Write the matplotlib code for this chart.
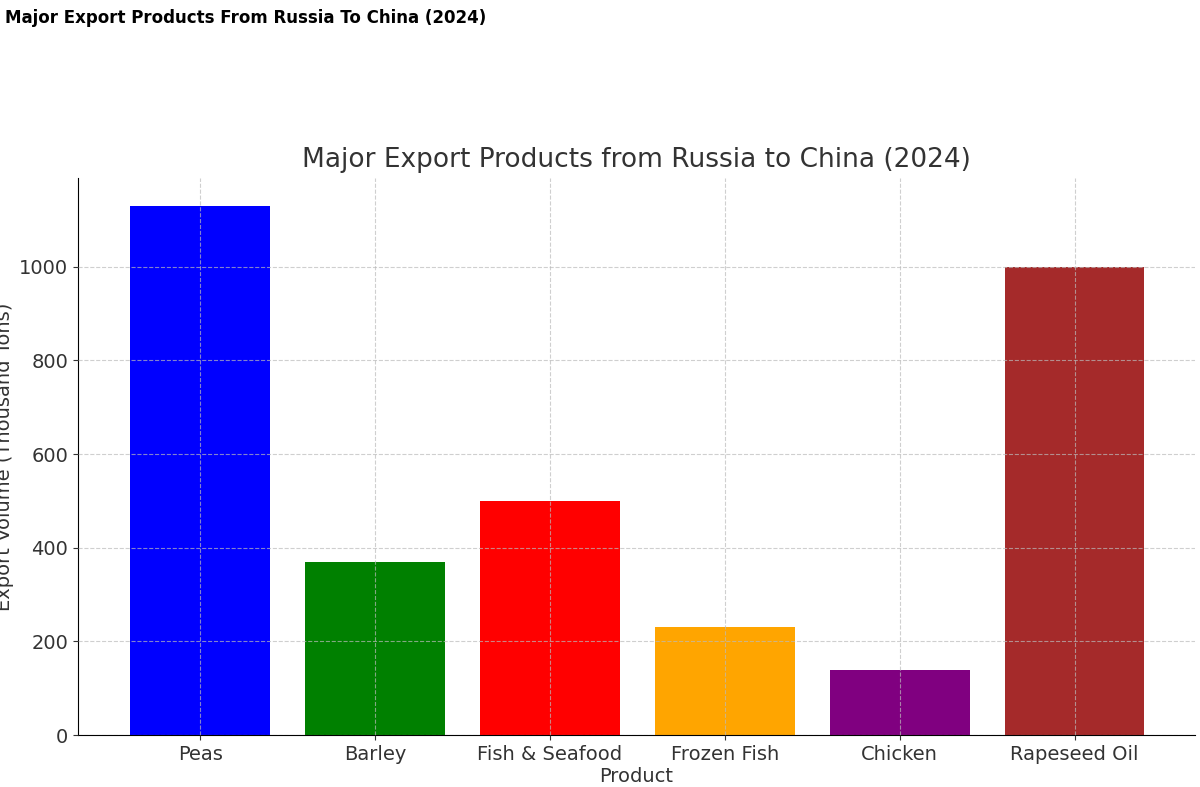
import matplotlib.pyplot as plt

products = ['Peas', 'Barley', 'Fish & Seafood', 'Frozen Fish', 'Chicken', 'Rapeseed Oil']
volumes = [1130, 370, 500, 230, 140, 1000]
colors = ['blue', 'green', 'red', 'orange', 'purple', 'brown']

fig = plt.figure(figsize=(12, 7.87), dpi=100)
ax = fig.add_axes([0.065, 0.066, 0.931, 0.708])

ax.bar(products, volumes, color=colors, width=0.8)
ax.set_xlim(-0.70, 5.69)
ax.set_ylim(0, 1190)
ax.set_title('Major Export Products from Russia to China (2024)', fontsize=19, color='#333333', pad=8)
ax.set_xlabel('Product', fontsize=14, color='#333333', labelpad=2)
ax.set_ylabel('Export Volume (Thousand Tons)', fontsize=14, color='#333333')
ax.tick_params(labelsize=14, colors='#333333')
ax.grid(True, linestyle='--', alpha=0.7, color='#bbbbbb')
ax.set_axisbelow(False)
for s in ['top', 'right']:
    ax.spines[s].set_visible(False)

fig.text(0.004, 0.977, 'Major Export Products From Russia To China (2024)',
         fontsize=12, fontweight='bold', va='center', ha='left')

fig.savefig('out.png', dpi=100)
